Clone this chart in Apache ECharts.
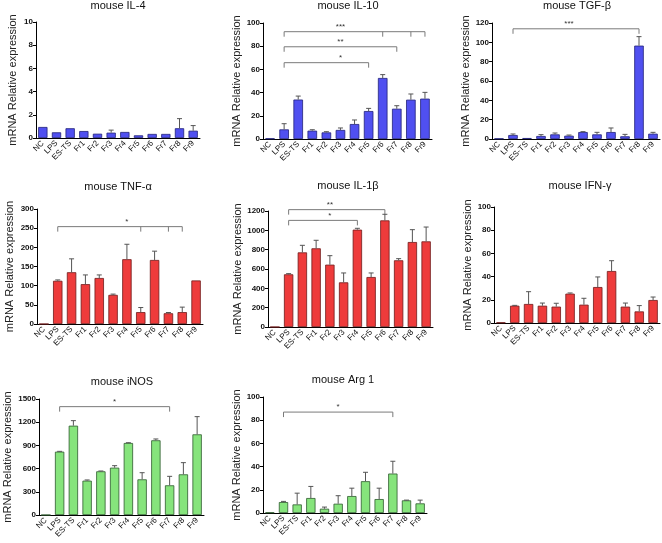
<!DOCTYPE html>
<html>
<head>
<meta charset="utf-8">
<script src="https://cdn.jsdelivr.net/npm/echarts@6/dist/echarts.min.js"></script>
<style>
html, body { margin: 0; padding: 0; background: #fff; }
#chart { width: 662px; height: 543px; }
</style>
</head>
<body>
<div id="chart"></div>
<script>
// categories shared by all panels
var categories = ['NC', 'LPS', 'ES-TS', 'Fr1', 'Fr2', 'Fr3', 'Fr4', 'Fr5', 'Fr6', 'Fr7', 'Fr8', 'Fr9'];

var il4Mean = [0.95, 0.49, 0.84, 0.6, 0.37, 0.46, 0.52, 0.23, 0.35, 0.35, 0.84, 0.63];
var il4Err = [0, 0, 0, 0, 0, 0.22, 0, 0, 0, 0, 0.83, 0.44];

var il10Mean = [0.5, 8.3, 34, 7.2, 5.7, 7.8, 12.9, 24.1, 52.6, 26.1, 33.9, 34.8];
var il10Err = [0, 4.9, 3, 0.8, 0.6, 1.7, 3.5, 2.3, 2.9, 2.6, 4.9, 5.4];

var tgfMean = [0.5, 4.1, 1.0, 3.1, 4.8, 3.4, 7.2, 4.8, 7.2, 2.8, 96.6, 5.5];
var tgfErr = [0, 1.1, 0, 1.4, 1.4, 0.7, 0.4, 2.1, 4.2, 2.0, 9.3, 1.4];

var tnfMean = [0, 112.7, 135, 104, 120, 76, 169, 31, 167, 28, 31, 113.6];
var tnfErr = [0, 2.3, 35, 24, 8, 2, 39, 12, 23, 2, 13, 0];

var il1bMean = [0, 545, 772, 814, 645, 462, 1007, 517, 1103, 690, 879, 886];
var il1bErr = [0, 7, 73, 83, 93, 97, 14, 42, 63, 17, 128, 148];

var ifngMean = [0.5, 14.9, 16.4, 14.9, 14.1, 25.3, 15.8, 31, 44.8, 14.1, 10, 19.8];
var ifngErr = [0, 0.3, 10.6, 2.3, 2.9, 0.6, 5.5, 8.7, 8.9, 3.1, 5, 2.6];

var inosMean = [0, 819, 1155, 444, 565, 612, 931, 461, 966, 384, 526, 1043];
var inosErr = [0, 4, 65, 9, 4, 26, 4, 86, 17, 116, 151, 229];

var arg1Mean = [0.5, 9.4, 7.4, 12.9, 3.7, 8, 14.6, 27.4, 12, 34, 10.9, 8.3];
var arg1Err = [0, 0.6, 9.7, 10, 1.4, 6.9, 6.8, 7.7, 9.4, 10.6, 0.2, 2.8];

// significance brackets: start category, end ticks, height, stars
var il10Brackets = [
    { from: 1, ticks: [8, 10, 11], y: 92.5, label: '***', labelAt: 5.2 },
    { from: 1, ticks: [9], y: 79.5, label: '**', labelAt: 5.2 },
    { from: 1, ticks: [7], y: 65.8, label: '*', labelAt: 5.2 }
];
var tgfBrackets = [{ from: 1, ticks: [10], y: 114, label: '***', labelAt: 5.2 }];
var tnfBrackets = [{ from: 1, ticks: [7, 9, 10], y: 254, label: '*', labelAt: 5.6 }];
var il1bBrackets = [
    { from: 1, ticks: [8], y: 1214, label: '**', labelAt: 4.0 },
    { from: 1, ticks: [6], y: 1103, label: '*', labelAt: 4.2 }
];
var inosBrackets = [{ from: 1, ticks: [9], y: 1401, label: '*', labelAt: 5.2 }];
var arg1Brackets = [{ from: 1, ticks: [9], y: 87, label: '*', labelAt: 5.3 }];

var BLUE = { fill: '#5050f0', edge: '#22227a' };
var RED = { fill: '#ee3b3b', edge: '#6e1a1a' };
var GREEN = { fill: '#86e47c', edge: '#2f5a2f' };
var FONT = '"Liberation Sans", Arial, sans-serif';

var panels = [
    { title: 'mouse IL-4', mean: il4Mean, err: il4Err, c: BLUE, max: 10, step: 2, br: [], box: [36, 22, 200, 138], gap: 18, tx: 118, ty: 6 },
    { title: 'mouse IL-10', mean: il10Mean, err: il10Err, c: BLUE, max: 100, step: 20, br: il10Brackets, box: [263, 23, 432, 139], gap: 17, tx: 348, ty: 6 },
    { title: 'mouse TGF-β', mean: tgfMean, err: tgfErr, c: BLUE, max: 120, step: 20, br: tgfBrackets, box: [492, 23, 660, 139], gap: 14, tx: 577, ty: 6 },
    { title: 'mouse TNF-α', mean: tnfMean, err: tnfErr, c: RED, max: 300, step: 50, br: tnfBrackets, box: [37, 209, 203, 324], gap: 22, tx: 118, ty: 187 },
    { title: 'mouse IL-1β', mean: il1bMean, err: il1bErr, c: RED, max: 1200, step: 200, br: il1bBrackets, box: [268, 211, 433, 327], gap: 22, tx: 348, ty: 186 },
    { title: 'mouse IFN-γ', mean: ifngMean, err: ifngErr, c: RED, max: 100, step: 20, br: [], box: [494, 207, 660, 323], gap: 16, tx: 580, ty: 186 },
    { title: 'mouse iNOS', mean: inosMean, err: inosErr, c: GREEN, max: 1500, step: 300, br: inosBrackets, box: [39, 399, 204, 515], gap: 26, tx: 122, ty: 382 },
    { title: 'mouse Arg 1', mean: arg1Mean, err: arg1Err, c: GREEN, max: 100, step: 20, br: arg1Brackets, box: [263, 397, 427, 513], gap: 17, tx: 343, ty: 380 }
];

var chart = echarts.init(document.getElementById('chart'));

var grid = [], xAxis = [], yAxis = [], series = [], graphic = [];

panels.forEach(function (p, k) {
    grid.push({
        left: p.box[0], top: p.box[1],
        width: p.box[2] - p.box[0], height: p.box[3] - p.box[1],
        containLabel: false
    });
    xAxis.push({
        type: 'category', gridIndex: k, data: categories,
        axisLine: { lineStyle: { color: '#000', width: 1 } },
        axisTick: { alignWithLabel: true, length: 3, lineStyle: { color: '#000' } },
        axisLabel: { rotate: 45, interval: 0, fontSize: 8, color: '#111', margin: 4, fontFamily: FONT }
    });
    yAxis.push({
        type: 'value', gridIndex: k, min: 0, max: p.max, interval: p.step,
        name: 'mRNA Relative expression', nameLocation: 'middle', nameGap: p.gap,
        nameTextStyle: { fontSize: 11, color: '#222', fontFamily: FONT },
        axisLine: { show: true, lineStyle: { color: '#000', width: 1 } },
        axisTick: { show: true, length: 3, lineStyle: { color: '#000' } },
        axisLabel: {
            fontSize: 8, fontWeight: 'bold', color: '#111', margin: 3, fontFamily: FONT,
            formatter: function (v) { return String(v); }
        },
        splitLine: { show: false }
    });
    series.push({
        type: 'bar', xAxisIndex: k, yAxisIndex: k,
        data: p.mean,
        barCategoryGap: '32%',
        itemStyle: { color: p.c.fill, borderColor: p.c.edge, borderWidth: 0.8 },
        silent: true
    });
    // error bars (upper half only, as drawn in the figure)
    series.push({
        type: 'custom', xAxisIndex: k, yAxisIndex: k,
        data: p.mean.map(function (m, i) { return [i, m, p.err[i]]; }),
        renderItem: function (params, api) {
            var i = api.value(0), m = api.value(1), e = api.value(2);
            if (!e) return;
            var a = api.coord([i, m]), b = api.coord([i, m + e]);
            var st = { stroke: '#555', lineWidth: 1 };
            return {
                type: 'group', children: [
                    { type: 'line', shape: { x1: a[0], y1: a[1], x2: b[0], y2: b[1] }, style: st },
                    { type: 'line', shape: { x1: b[0] - 2.5, y1: b[1], x2: b[0] + 2.5, y2: b[1] }, style: st }
                ]
            };
        },
        z: 3, silent: true
    });
    if (p.br.length) {
        series.push({
            type: 'custom', xAxisIndex: k, yAxisIndex: k, clip: false,
            data: p.br.map(function (b) { return [b.from, b.y]; }),
            renderItem: function (params, api) {
                var b = p.br[params.dataIndex];
                var last = b.ticks[b.ticks.length - 1];
                var s = api.coord([b.from, b.y]), e = api.coord([last, b.y]);
                var st = { stroke: '#7a7a7a', lineWidth: 1 };
                var kids = [
                    { type: 'line', shape: { x1: s[0], y1: s[1], x2: e[0], y2: e[1] }, style: st },
                    { type: 'line', shape: { x1: s[0], y1: s[1], x2: s[0], y2: s[1] + 5 }, style: st }
                ];
                b.ticks.forEach(function (t) {
                    var q = api.coord([t, b.y]);
                    kids.push({ type: 'line', shape: { x1: q[0], y1: q[1], x2: q[0], y2: q[1] + 5 }, style: st });
                });
                var lp = api.coord([b.labelAt, b.y]);
                kids.push({
                    type: 'text', x: lp[0], y: s[1] - 1,
                    style: { text: b.label, fill: '#333', font: '8px ' + FONT, textAlign: 'center', textVerticalAlign: 'bottom' }
                });
                return { type: 'group', children: kids };
            },
            silent: true
        });
    }
    graphic.push({
        type: 'text', x: p.tx, y: p.ty,
        style: { text: p.title, fill: '#111', font: '11px ' + FONT, textAlign: 'center', textVerticalAlign: 'middle' }
    });
});

chart.setOption({
    animation: false,
    grid: grid,
    xAxis: xAxis,
    yAxis: yAxis,
    series: series,
    graphic: graphic
});
</script>
</body>
</html>
